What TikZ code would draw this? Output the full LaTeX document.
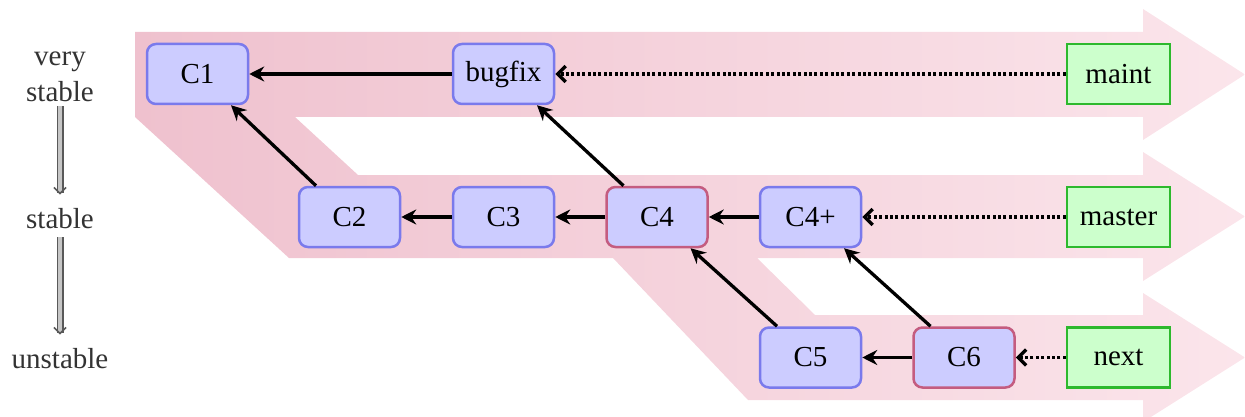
\documentclass[tikz,border=0pt]{standalone}
\usepackage{fontspec}
\setmainfont{Liberation Serif}
\newfontfamily\tnr{Liberation Serif}
\usetikzlibrary{arrows.meta,calc}
\definecolor{bandL}{RGB}{239,193,206}
\definecolor{bandR}{RGB}{251,229,235}
\definecolor{cfill}{RGB}{204,204,255}
\definecolor{cdraw}{RGB}{122,122,236}
\definecolor{hdraw}{RGB}{196,92,128}
\definecolor{rfill}{RGB}{204,255,204}
\definecolor{rdraw}{RGB}{45,185,45}
\begin{document}
\begin{tikzpicture}[x=1pt,y=-1pt,
  txt/.style={font=\tnr\fontsize{29}{36}\selectfont},
  commit/.style={txt, draw=cdraw, fill=cfill, line width=2.5pt, rounded corners=9pt,
    minimum width=101pt, minimum height=60pt, inner sep=0pt},
  headc/.style={commit, draw=hdraw},
  refbox/.style={txt, draw=rdraw, fill=rfill, line width=2.5pt,
    minimum width=103pt, minimum height=60pt, inner sep=0pt},
  parent/.style={-{Stealth[length=15pt,width=15pt,inset=5pt]}, line width=3.3pt},
  refptr/.style={-{Straight Barb[length=8pt,width=16pt]}, line width=3.5pt,
    dash pattern=on 3pt off 2.4pt},
  lbl/.style={txt, align=center, inner sep=0pt, text=black!80},
  stabarrow/.style={draw=gray!70!black, double=gray!45, double distance=3.8pt,
    line width=1.6pt, -{Straight Barb[length=6pt,width=12pt]}}
]
\useasboundingbox (0,0) rectangle (1245,417);
% bands
\shade[left color=bandL, right color=bandR]
  (135,32) -- (1143,32) -- (1143,9) -- (1245,74.5) -- (1143,140) -- (1143,117)
  -- (295,117) -- (358,175) -- (1143,175) -- (1143,152) -- (1245,216.5)
  -- (1143,281) -- (1143,258) -- (757,258) -- (815,315) -- (1143,315)
  -- (1143,293) -- (1245,357.5) -- (1143,422) -- (1143,400) -- (748,400)
  -- (613,258) -- (289,258) -- (135,117) -- cycle;
% labels
\node[lbl] (lvs) at (60,77) {very\\stable};
\node[lbl] (ls) at (60,219) {stable};
\node[lbl] (lu) at (60,359) {unstable};
\draw[stabarrow] ([yshift=-4pt]lvs.south) -- ([yshift=14pt]ls.north);
\draw[stabarrow] ([yshift=-8pt]ls.south) -- ([yshift=14pt]lu.north);
% commits
\node[commit] (C1) at (197.5,74) {C1};
\node[commit] (bugfix) at (503.5,74) {bugfix};
\node[commit] (C2) at (349.5,217) {C2};
\node[commit] (C3) at (503.5,217) {C3};
\node[headc] (C4) at (657,217) {C4};
\node[commit] (C4p) at (810.5,217) {C4+};
\node[commit] (C5) at (810.5,357.5) {C5};
\node[headc] (C6) at (964,357.5) {C6};
% refs
\node[refbox] (maint) at (1118.5,74) {maint};
\node[refbox] (master) at (1118.5,217) {master};
\node[refbox] (next) at (1118.5,357.5) {next};
% parent links
\draw[parent] (bugfix) -- (C1);
\draw[parent] (C2.137) -- (C1.-43);
\draw[parent] (C3) -- (C2);
\draw[parent] (C4) -- (C3);
\draw[parent] (C4.137) -- (bugfix.-43);
\draw[parent] (C4p) -- (C4);
\draw[parent] (C5.137) -- (C4.-43);
\draw[parent] (C6) -- (C5);
\draw[parent] (C6.137) -- (C4p.-43);
% ref pointers
\draw[refptr] (maint) -- (bugfix);
\draw[refptr] (master) -- (C4p);
\draw[refptr] (next) -- (C6);
\end{tikzpicture}
\end{document}
